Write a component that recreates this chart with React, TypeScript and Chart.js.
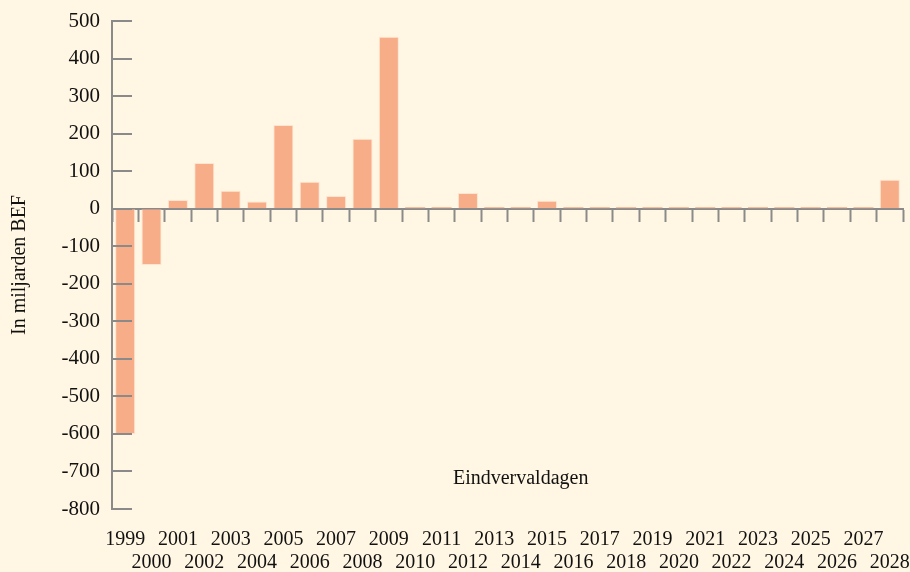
import React, { useEffect, useRef } from "react";
import { Chart, registerables } from "chart.js";

Chart.register(...registerables);

const years: string[] = [
  "1999","2000","2001","2002","2003","2004","2005","2006","2007","2008",
  "2009","2010","2011","2012","2013","2014","2015","2016","2017","2018",
  "2019","2020","2021","2022","2023","2024","2025","2026","2027","2028",
];
const values: number[] = [
  -600, -150, 23, 122, 48, 19, 223, 72, 34, 186,
  458, 3, 2, 42, 2, 2, 21, 3, 2, 2,
  2, 2, 2, 2, 2, 2, 2, 2, 2, 77,
];
const yTicks: number[] = [500, 400, 300, 200, 100, 0, -100, -200, -300, -400, -500, -600, -700, -800];
const yTitle = "In miljarden BEF";
const xTitle = "Eindvervaldagen";

const BG = "#FFF7E3";
const BAR = "#F7AE88";
const AXIS = "#8A8A8A";
const FONT = "'Liberation Serif', 'Times New Roman', serif";

export default function App() {
  const ref = useRef<HTMLCanvasElement | null>(null);
  useEffect(() => {
    document.body.style.margin = "0";
    document.body.style.background = BG;
    const canvas = ref.current!;
    const twoRowLabels = years.map((y, i) => (i % 2 === 0 ? [y, ""] : ["", y]));

    const decor = {
      id: "decor",
      beforeDraw(chart: any) {
        const ctx = chart.ctx;
        ctx.save();
        ctx.fillStyle = BG;
        ctx.fillRect(0, 0, chart.width, chart.height);
        ctx.restore();
      },
      afterDraw(chart: any) {
        const ctx = chart.ctx;
        const y = chart.scales.y;
        const area = chart.chartArea;
        ctx.save();
        ctx.strokeStyle = AXIS;
        ctx.lineWidth = 2;
        yTicks.forEach((t) => {
          const py = Math.round(y.getPixelForValue(t));
          ctx.beginPath();
          ctx.moveTo(area.left, py);
          ctx.lineTo(area.left + 20, py);
          ctx.stroke();
        });
        ctx.fillStyle = "#111";
        ctx.font = "20px " + FONT;
        ctx.textAlign = "center";
        ctx.textBaseline = "middle";
        const x = chart.scales.x;
        ctx.fillText(xTitle, x.getPixelForValue(15), y.getPixelForValue(-720));
        ctx.restore();
      },
    };

    const chart = new Chart(canvas, {
      type: "bar",
      data: {
        labels: years,
        datasets: [
          {
            data: values,
            backgroundColor: BAR,
            borderColor: "rgba(255,225,205,0.9)",
            borderWidth: (c: any) => (Math.abs(c.raw ?? 0) < 5 ? 0 : 1),
            minBarLength: 1.5,
            barPercentage: 0.76,
            categoryPercentage: 1,
            xAxisID: "x",
            yAxisID: "y",
          } as any,
        ],
      },
      options: {
        animation: false,
        responsive: false,
        devicePixelRatio: 1,
        layout: { padding: { left: 0, right: 7, top: 21, bottom: 0 } },
        plugins: { legend: { display: false }, tooltip: { enabled: false } },
        scales: {
          x: {
            type: "category",
            position: { y: 0 } as any,
            offset: true,
            grid: {
              display: true,
              offset: true,
              drawOnChartArea: false,
              drawTicks: true,
              tickLength: 12,
              tickWidth: 2,
              color: AXIS,
            },
            border: { display: true, color: AXIS, width: 2 },
            ticks: { display: false },
          },
          x2: {
            type: "category",
            position: "bottom",
            labels: twoRowLabels as any,
            offset: true,
            grid: { display: false },
            border: { display: false },
            ticks: {
              autoSkip: false,
              maxRotation: 0,
              minRotation: 0,
              color: "#111",
              font: { family: FONT, size: 20, lineHeight: 1.15 },
              padding: 11,
            },
            afterFit: (s: any) => {
              s.height = 63;
              s.paddingLeft = 0;
              s.paddingRight = 0;
            },
          },
          y: {
            type: "linear",
            min: -800,
            max: 500,
            afterBuildTicks: (s: any) => {
              s.ticks = yTicks.map((v) => ({ value: v }));
            },
            grid: { display: true, drawOnChartArea: false, drawTicks: false },
            border: { display: true, color: AXIS, width: 2 },
            ticks: {
              color: "#111",
              font: { family: FONT, size: 21 },
              padding: 12,
            },
            title: {
              display: true,
              text: yTitle,
              color: "#111",
              font: { family: FONT, size: 20 },
              padding: { top: 8, bottom: 0 },
            },
            afterFit: (s: any) => {
              s.width = 112;
              s.paddingTop = 0;
              s.paddingBottom = 0;
            },
          },
        },
      },
      plugins: [decor],
    });
    return () => chart.destroy();
  }, []);
  return (
    <div style={{ width: 910, height: 572, background: BG }}>
      <canvas ref={ref} width={910} height={572} style={{ display: "block" }} />
    </div>
  );
}
